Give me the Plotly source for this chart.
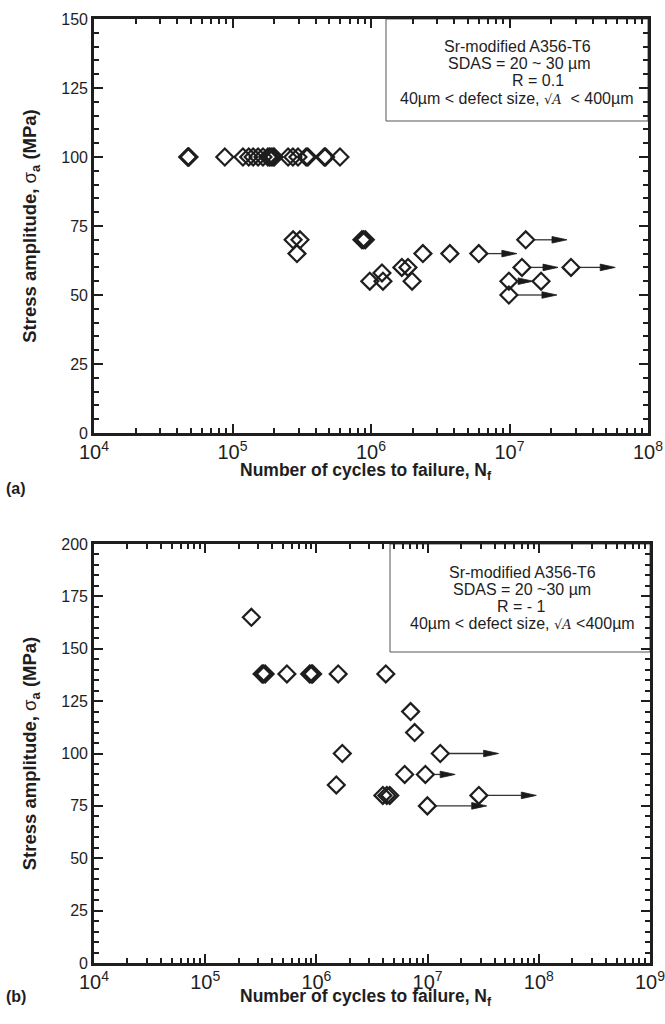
import plotly.graph_objects as go
import numpy as np

# ---------------- data: panel (a) R = 0.1 ----------------
a_fail_N = [4.75e4, 4.85e4, 4.8e4, 8.8e4, 1.19e5, 1.31e5, 1.41e5, 1.53e5, 1.66e5,
            1.80e5, 1.85e5, 1.90e5, 1.96e5, 2.0e5, 2.52e5, 2.73e5, 2.97e5, 3.4e5,
            3.5e5, 4.6e5, 4.7e5, 5.97e5,
            2.74e5, 3.07e5, 2.92e5, 8.6e5, 8.85e5, 9.1e5,
            9.8e5, 1.2e6, 1.22e6, 1.67e6, 1.85e6, 1.98e6, 2.37e6, 3.71e6, 1.69e7]
a_fail_S = [100] * 22 + [70, 70, 65, 70, 70, 70] + [55, 58, 55, 60, 60, 55, 65, 65, 55]
a_run_N = [6.0e6, 9.9e6, 9.9e6, 1.31e7, 1.23e7, 2.78e7]
a_run_S = [65, 55, 50, 70, 60, 60]
a_run_end = [1.13e7, 1.48e7, 2.2e7, 2.6e7, 2.24e7, 5.8e7]

# ---------------- data: panel (b) R = -1 ----------------
b_fail_N = [2.6e5, 3.25e5, 3.35e5, 3.46e5, 5.43e5, 8.7e5, 9.0e5, 9.25e5, 1.57e6,
            4.21e6, 7.03e6, 7.64e6, 1.71e6, 6.22e6, 1.51e6, 3.96e6, 4.3e6, 4.57e6]
b_fail_S = [165, 138, 138, 138, 138, 138, 138, 138, 138, 138, 120, 110, 100, 90, 85,
            80, 80, 80]
b_run_N = [1.30e7, 9.55e6, 2.89e7, 9.95e6]
b_run_S = [100, 90, 80, 75]
b_run_end = [4.35e7, 1.77e7, 9.5e7, 3.4e7]

SQA = "<span style='font-size:13px;font-family:DejaVu Serif'>√<i>A</i></span>"
legend_a = ["Sr-modified A356-T6", "SDAS = 20 ~ 30 µm", "R = 0.1",
            "40µm < defect size, " + SQA + "  < 400µm"]
legend_b = ["Sr-modified A356-T6", "SDAS = 20 ~30 µm", "R = - 1",
            "40µm < defect size, " + SQA + " <400µm"]

INK = "#1e1e1e"
FONT = "Liberation Sans, Arial, Helvetica, sans-serif"

fig = go.Figure()

# pixel-per-decade / pixel-per-MPa style constants for arrow geometry
geo = {
    "a": dict(ppd=138.5, ppu=2.773),
    "b": dict(ppd=111.2, ppu=2.09),
}


def add_panel(fail_N, fail_S, run_N, run_S, run_end, xa, ya, key):
    g = geo[key]
    for n, s, e in zip(run_N, run_S, run_end):
        start = n * 10 ** (8.5 / g["ppd"])
        base = e / 10 ** (15 / g["ppd"])
        fig.add_trace(go.Scatter(x=[start, base], y=[s, s], mode="lines",
                                 line=dict(color="#333333", width=1.3),
                                 xaxis=xa, yaxis=ya, showlegend=False,
                                 hoverinfo="skip"))
        h = 3.3 / g["ppu"]
        fig.add_trace(go.Scatter(x=[base, e, base, base], y=[s - h, s, s + h, s - h],
                                 mode="lines", fill="toself", fillcolor="#1a1a1a",
                                 line=dict(color="#1a1a1a", width=0.8),
                                 xaxis=xa, yaxis=ya, showlegend=False,
                                 hoverinfo="skip"))
    allN = list(fail_N) + list(run_N)
    allS = list(fail_S) + list(run_S)
    fig.add_trace(go.Scatter(x=allN, y=allS, mode="markers",
                             marker=dict(symbol="diamond-open", size=13,
                                         color=INK, line=dict(color=INK, width=2.2)),
                             xaxis=xa, yaxis=ya, showlegend=False))


add_panel(a_fail_N, a_fail_S, a_run_N, a_run_S, a_run_end, "x", "y", "a")
add_panel(b_fail_N, b_fail_S, b_run_N, b_run_S, b_run_end, "x2", "y2", "b")

W, H = 665, 1024


def xdom(l, r):
    return [l / W, r / W]


def ydom(top, bottom):
    return [1 - bottom / H, 1 - top / H]


axis_common = dict(showline=True, linewidth=2.6, linecolor=INK, mirror="allticks",
                   ticks="inside", ticklen=9, tickwidth=2.2, tickcolor=INK,
                   showgrid=False, zeroline=False, automargin=False,
                   ticklabeloverflow="allow",
                   tickfont=dict(family=FONT, size=16, color=INK))
minor_common = dict(ticks="inside", ticklen=5, tickwidth=1.6, tickcolor=INK,
                    showgrid=False)

xtitle = "<b>Number of cycles to failure, N<sub>f</sub></b>"
ytitle = "<b>Stress amplitude, </b>σ<sub><b>a</b></sub><b> (MPa)</b>"

fig.update_layout(
    width=W, height=H, margin=dict(l=0, r=0, t=0, b=0, autoexpand=False),
    paper_bgcolor="white", plot_bgcolor="white",
    xaxis=dict(axis_common, type="log", range=[4, 8], dtick=1, exponentformat="power",
               domain=xdom(94, 648), anchor="y",
               minor=dict(minor_common, dtick="D1")),
    yaxis=dict(axis_common, range=[0, 150], dtick=25, domain=ydom(19, 433), anchor="x",
               minor=dict(minor_common, dtick=5),
               title=dict(text=ytitle, font=dict(family=FONT, size=18.5, color=INK),
                          standoff=20)),
    xaxis2=dict(axis_common, type="log", range=[4, 9], dtick=1, exponentformat="power",
                domain=xdom(94, 650), anchor="y2",
                minor=dict(minor_common, dtick="D1")),
    yaxis2=dict(axis_common, range=[0, 200], dtick=25, domain=ydom(544, 963),
                anchor="x2", minor=dict(minor_common, dtick=5),
                title=dict(text=ytitle, font=dict(family=FONT, size=18.5, color=INK),
                           standoff=20)),
)

# x-axis titles
fig.add_annotation(xref="paper", yref="paper", x=366 / W, y=1 - 471 / H,
                   text=xtitle, showarrow=False, xanchor="center", yanchor="middle",
                   font=dict(family=FONT, size=17.5, color=INK))
fig.add_annotation(xref="paper", yref="paper", x=366 / W, y=1 - 997 / H,
                   text=xtitle, showarrow=False, xanchor="center", yanchor="middle",
                   font=dict(family=FONT, size=17.5, color=INK))

# legend boxes
fig.add_shape(type="rect", xref="paper", yref="paper",
              x0=386 / W, x1=648 / W, y0=1 - 121 / H, y1=1 - 19 / H,
              line=dict(color="#555555", width=1), layer="below")
fig.add_shape(type="rect", xref="paper", yref="paper",
              x0=390 / W, x1=650 / W, y0=1 - 652 / H, y1=1 - 544 / H,
              line=dict(color="#555555", width=1), layer="below")

legend_a_pos = [(517, 46), (519, 63), (538, 80), (517, 98)]
legend_b_pos = [(522, 572), (522, 589), (521, 606), (522, 623)]
for txt, (px, py) in zip(legend_a, legend_a_pos):
    fig.add_annotation(xref="paper", yref="paper", x=px / W, y=1 - py / H,
                       text=txt, showarrow=False, xanchor="center", yanchor="middle",
                       font=dict(family=FONT, size=16, color=INK))
for txt, (px, py) in zip(legend_b, legend_b_pos):
    fig.add_annotation(xref="paper", yref="paper", x=px / W, y=1 - py / H,
                       text=txt, showarrow=False, xanchor="center", yanchor="middle",
                       font=dict(family=FONT, size=16, color=INK))

# panel labels
fig.add_annotation(xref="paper", yref="paper", x=4 / W, y=1 - 488 / H,
                   text="<b>(a)</b>", showarrow=False, xanchor="left", yanchor="middle",
                   font=dict(family=FONT, size=16, color=INK))
fig.add_annotation(xref="paper", yref="paper", x=4 / W, y=1 - 996 / H,
                   text="<b>(b)</b>", showarrow=False, xanchor="left", yanchor="middle",
                   font=dict(family=FONT, size=16, color=INK))

fig.write_html("out.html")
